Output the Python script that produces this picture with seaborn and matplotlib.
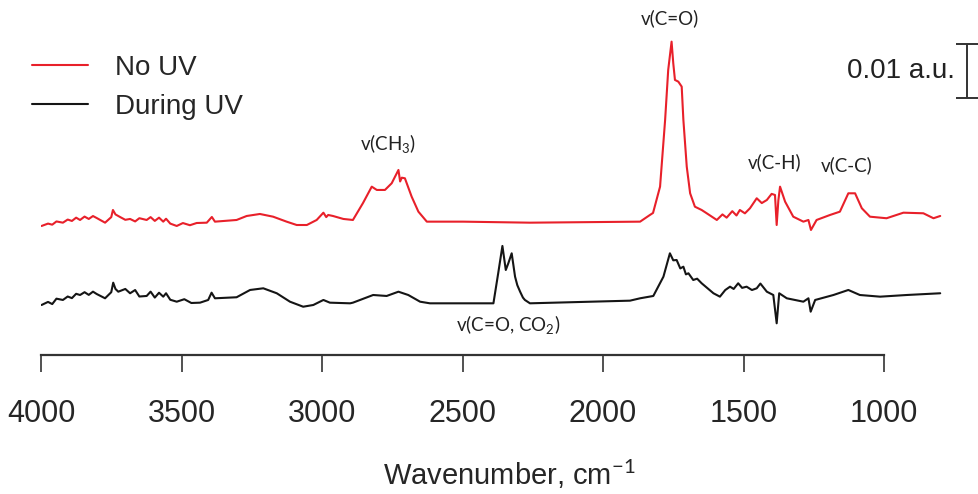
import numpy as np
import pandas as pd
import matplotlib
matplotlib.use("Agg")
import matplotlib.pyplot as plt
import seaborn as sns

# --- Spectra (absorbance in 1e-3 a.u.) ---

no_uv_wn = [3998, 3975, 3960, 3945, 3922, 3905, 3890, 3875, 3861, 3845, 3830, 3815, 3802,
            3772, 3750, 3744, 3735, 3719, 3700, 3683, 3665, 3650, 3624, 3610, 3595, 3580,
            3565, 3555, 3540, 3517, 3495, 3470, 3446, 3410, 3392, 3381, 3304, 3268, 3221,
            3174, 3126, 3090, 3054, 3019, 2995, 2985, 2978, 2961, 2924, 2890, 2854, 2823,
            2805, 2776, 2752, 2728, 2722, 2716, 2705, 2681, 2657, 2627, 2498, 2260, 1868,
            1833, 1822, 1797, 1779, 1768, 1756, 1750, 1744, 1732, 1720, 1714, 1702, 1690,
            1673, 1649, 1631, 1595, 1575, 1560, 1540, 1525, 1513, 1495, 1477, 1453, 1435,
            1417, 1400, 1388, 1382, 1376, 1370, 1352, 1323, 1287, 1269, 1260, 1240, 1192,
            1157, 1127, 1103, 1079, 1050, 991, 931, 860, 824, 800]
no_uv_abs = [-0.74, -0.30, -0.50, 0.10, -0.13, 0.45, 0.19, 0.80, 0.37, 1.00, 0.56, 1.10, 0.74,
             -0.13, 0.90, 2.22, 1.40, 0.93, 0.40, 0.56, 0.10, 0.70, 0.37, 0.90, 0.20, 0.80,
             0.06, 0.60, -0.30, -0.74, -0.20, -0.60, -0.19, -0.13, 0.93, 0.06, 0.37, 1.11, 1.48,
             0.98, 0.06, -0.56, -0.56, 0.37, 1.72, 0.90, 1.30, 1.11, 0.56, 0.37, 3.52, 6.54,
             5.93, 5.93, 7.17, 9.63, 7.50, 8.20, 8.09, 4.69, 1.91, 0.06, 0.06, -0.13, 0.06,
             1.30, 1.67, 6.54, 18.89, 28.15, 33.39, 29.39, 26.30, 25.98, 25.06, 18.89, 10.24, 5.31,
             2.83, 2.22, 1.61, 0.37, 1.40, 0.80, 2.00, 1.20, 2.22, 1.60, 2.54, 4.39, 3.50,
             4.07, 5.20, 5.00, -0.56, 4.00, 6.54, 3.76, 0.98, 0.06, 0.37, -1.48, 0.37, 1.30,
             1.91, 5.31, 5.31, 2.54, 0.98, 0.69, 1.72, 1.61, 0.69, 1.11]

during_uv_wn = [3998, 3975, 3960, 3945, 3922, 3905, 3890, 3875, 3861, 3845, 3830, 3815, 3802,
                3772, 3750, 3743, 3735, 3725, 3700, 3683, 3665, 3650, 3624, 3610, 3595, 3580,
                3565, 3555, 3540, 3517, 3490, 3465, 3434, 3405, 3393, 3381, 3304, 3256, 3209,
                3161, 3114, 3067, 3031, 2995, 2972, 2900, 2890, 2818, 2770, 2728, 2693, 2651,
                2616, 2390, 2373, 2358, 2346, 2337, 2325, 2313, 2305, 2295, 2285, 2278, 2260,
                1904, 1868, 1821, 1785, 1762, 1750, 1738, 1725, 1714, 1705, 1696, 1679, 1665,
                1649, 1607, 1584, 1565, 1548, 1535, 1519, 1505, 1489, 1470, 1453, 1440, 1417,
                1394, 1382, 1373, 1346, 1287, 1269, 1261, 1245, 1180, 1127, 1086, 1014, 919, 800]
during_uv_abs = [-0.37, 0.20, -0.20, 0.80, 0.56, 1.20, 0.90, 1.70, 1.48, 2.00, 1.50, 2.10, 1.67,
                 0.87, 2.00, 3.76, 2.60, 2.09, 2.60, 1.80, 2.40, 1.20, 1.30, 2.10, 1.00, 1.90,
                 1.17, 1.80, 0.60, 0.24, 0.70, 0.00, 0.06, 0.56, 1.91, 0.87, 1.06, 2.41, 2.72,
                 1.80, 0.24, -0.69, -0.37, 0.56, 0.06, -0.06, 0.06, 1.48, 1.30, 2.09, 1.48, 0.24,
                 -0.06, -0.06, 5.50, 10.56, 6.11, 7.35, 9.20, 4.87, 3.30, 2.09, 1.00, 0.56, -0.06,
                 0.43, 0.87, 1.30, 4.87, 9.20, 7.90, 7.96, 6.40, 6.72, 5.30, 5.50, 4.26, 4.50,
                 3.65, 1.80, 1.17, 2.40, 3.02, 2.60, 3.65, 2.80, 3.02, 2.40, 2.72, 3.60, 2.09,
                 1.48, -3.76, 1.80, 0.87, 0.24, 0.87, -1.61, 0.56, 1.48, 2.41, 1.48, 1.17, 1.48, 1.80]

series_names = ["No UV", "During UV"]
series_offsets = [15.0, 0.0]
series_colors = ["#e8202a", "#151515"]

peak_labels = [r"v(C=O)", r"v(CH$_3$)", r"v(C-H)", r"v(C-C)", r"v(C=O, CO$_2$)"]
peak_wn = [1762, 2765, 1388, 1132, 2338]
peak_y = [52.8, 29.3, 26.1, 25.6, -4.1]

x_ticks = [4000, 3500, 3000, 2500, 2000, 1500, 1000]

# --- Build long table ---

frames = []
for name, wn, ab, off in zip(series_names, [no_uv_wn, during_uv_wn],
                             [no_uv_abs, during_uv_abs], series_offsets):
    frames.append(pd.DataFrame({"wn": wn, "abs": np.array(ab) + off, "series": name}))
df = pd.concat(frames, ignore_index=True)

# --- Plot ---

sns.set_style("white")
plt.rcParams["font.family"] = ["Liberation Sans", "DejaVu Sans"]
plt.rcParams["mathtext.fontset"] = "custom"
plt.rcParams["mathtext.rm"] = "Lato"

fig = plt.figure(figsize=(9.79, 4.94), dpi=100)
ax = fig.add_axes([41 / 979, 139 / 494, 938 / 979, 355 / 494])

sns.lineplot(data=df, x="wn", y="abs", hue="series", hue_order=series_names,
             palette=series_colors, estimator=None, sort=False, linewidth=1.5,
             legend=False, ax=ax)

ax.set_xlim(4000, 662)
ax.set_ylim(-9.63, 56.1)

for s in ["top", "right", "left"]:
    ax.spines[s].set_visible(False)
ax.spines["bottom"].set_bounds(1000, 4000)
ax.spines["bottom"].set_linewidth(1.6)
ax.spines["bottom"].set_color("#333333")
ax.set_xticks(x_ticks)
ax.set_xticklabels([str(t) for t in x_ticks])
ax.tick_params(axis="x", direction="out", length=12, width=1.2, color="#333333",
               pad=20, labelsize=22, bottom=True)
ax.set_yticks([])
ax.set_ylabel("")
ax.set_xlabel("Wavenumber, cm$^{-1}$", fontsize=21)
ax.xaxis.set_label_coords((509 - 41) / 938, -(457 - 355) / 355)
ax.xaxis.label.set_va("top")

# peak labels
for lab, xw, yv in zip(peak_labels, peak_wn, peak_y):
    ax.text(xw, yv, lab, ha="center", va="center", fontsize=13.5,
            family=["Lato", "DejaVu Sans"], color="#222222")

# scale bar 0.01 a.u.
ax.errorbar([706], [42.96], yerr=[5.0], color="#333333", capsize=8, elinewidth=1.4,
            capthick=1.4)
ax.text(747, 43.0, "0.01 a.u.", ha="right", va="center", fontsize=20, color="#222222")

# legend
handles = ax.lines[:2]
fig.legend(handles, series_names, loc="upper left", bbox_to_anchor=(32 / 979, 1 - 55 / 494),
           frameon=False, fontsize=20, handlelength=2.0, handletextpad=1.0,
           labelspacing=0.45, borderpad=0, borderaxespad=0)

fig.savefig("out.png", dpi=100)
plt.close(fig)
